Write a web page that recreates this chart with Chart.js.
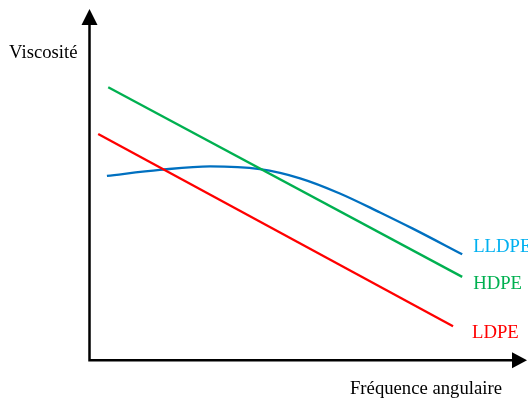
<!DOCTYPE html>
<html>
<head>
<meta charset="utf-8">
<script src="https://cdn.jsdelivr.net/npm/chart.js@4/dist/chart.umd.min.js"></script>
<style>
  body { margin: 0; background: #fff; }
  #wrap { width: 528px; height: 398px; position: relative; }
</style>
</head>
<body>
<div id="wrap"><canvas id="chart_viscosite"></canvas></div>
<script>
// schematic curves, arbitrary units (0-100 on both axes)
var hdpeX = [4.4, 85.4];
var hdpeY = [77.8, 23.9];

var ldpeX = [2.1, 83.3];
var ldpeY = [64.5, 9.9];

var lldpeX = [4.1, 16.2, 27.7, 39.1, 48.3, 57.4, 66.6, 74.1, 85.4];
var lldpeY = [52.6, 54.3, 55.3, 54.5, 51.9, 47.6, 42.2, 37.6, 30.3];

var seriesNames = ['HDPE', 'LDPE', 'LLDPE'];
var yTitle = 'Viscosité';
var xTitle = 'Fréquence angulaire';

function toPoints(xs, ys) {
    return xs.map(function(x, i) { return { x: x, y: ys[i] }; });
}

var serif = '"Liberation Serif", "Times New Roman", serif';

var chart_viscosite = new Chart(document.getElementById('chart_viscosite'), {
    type: 'line',
    data: {
        datasets: [
            {
                label: seriesNames[0],
                data: toPoints(hdpeX, hdpeY),
                borderColor: '#00b050',
                borderWidth: 2.3,
                pointRadius: 0,
                tension: 0
            },
            {
                label: seriesNames[1],
                data: toPoints(ldpeX, ldpeY),
                borderColor: '#ff0000',
                borderWidth: 2.3,
                pointRadius: 0,
                tension: 0
            },
            {
                label: seriesNames[2],
                data: toPoints(lldpeX, lldpeY),
                borderColor: '#0070c0',
                borderWidth: 2.3,
                pointRadius: 0,
                cubicInterpolationMode: 'monotone'
            }
        ]
    },
    options: {
        animation: false,
        responsive: true,
        maintainAspectRatio: false,
        layout: {
            padding: { left: 89, right: 2, top: 9, bottom: 37 }
        },
        plugins: {
            legend: { display: false },
            tooltip: { enabled: false }
        },
        scales: {
            x: { type: 'linear', min: 0, max: 100, display: false },
            y: { type: 'linear', min: 0, max: 100, display: false }
        }
    },
    plugins: [{
        id: 'axesAndLabels',
        afterDatasetsDraw: function(chart) {
            var ctx = chart.ctx;
            var xs = chart.scales.x, ys = chart.scales.y;
            var x0 = xs.getPixelForValue(0) + 0.5;
            var y0 = ys.getPixelForValue(0) - 0.8;
            var xEnd = xs.getPixelForValue(100) + 1;
            var yEnd = ys.getPixelForValue(100);

            ctx.save();
            // axes
            ctx.strokeStyle = '#000';
            ctx.fillStyle = '#000';
            ctx.lineWidth = 2.5;
            ctx.beginPath();
            ctx.moveTo(x0, yEnd + 14);
            ctx.lineTo(x0, y0);
            ctx.lineTo(xEnd - 14, y0);
            ctx.stroke();
            // arrow heads
            ctx.beginPath();
            ctx.moveTo(x0, yEnd);
            ctx.lineTo(x0 - 8, yEnd + 16);
            ctx.lineTo(x0 + 8, yEnd + 16);
            ctx.closePath();
            ctx.fill();
            ctx.beginPath();
            ctx.moveTo(xEnd, y0);
            ctx.lineTo(xEnd - 15, y0 - 8);
            ctx.lineTo(xEnd - 15, y0 + 8);
            ctx.closePath();
            ctx.fill();

            // axis titles
            ctx.font = '18.7px ' + serif;
            ctx.textBaseline = 'alphabetic';
            ctx.textAlign = 'right';
            ctx.fillText(yTitle, x0 - 12, 58);
            ctx.fillText(xTitle, xEnd - 25, y0 + 34);

            // series labels next to line ends
            ctx.textAlign = 'left';
            var labels = [
                { text: seriesNames[2], color: '#00b0f0', ds: 2, dx: 11, dy: -2 },
                { text: seriesNames[0], color: '#00b050', ds: 0, dx: 11, dy: 12 },
                { text: seriesNames[1], color: '#ff0000', ds: 1, dx: 19, dy: 12 }
            ];
            labels.forEach(function(l) {
                var pts = chart.getDatasetMeta(l.ds).data;
                var p = pts[pts.length - 1];
                ctx.fillStyle = l.color;
                ctx.fillText(l.text, p.x + l.dx, p.y + l.dy);
            });
            ctx.restore();
        }
    }, {
        id: 'whiteBackground',
        beforeDraw: function(chart) {
            var ctx = chart.canvas.getContext('2d');
            ctx.save();
            ctx.globalCompositeOperation = 'destination-over';
            ctx.fillStyle = 'white';
            ctx.fillRect(0, 0, chart.canvas.width, chart.canvas.height);
            ctx.restore();
        }
    }]
});
</script>
</body>
</html>
